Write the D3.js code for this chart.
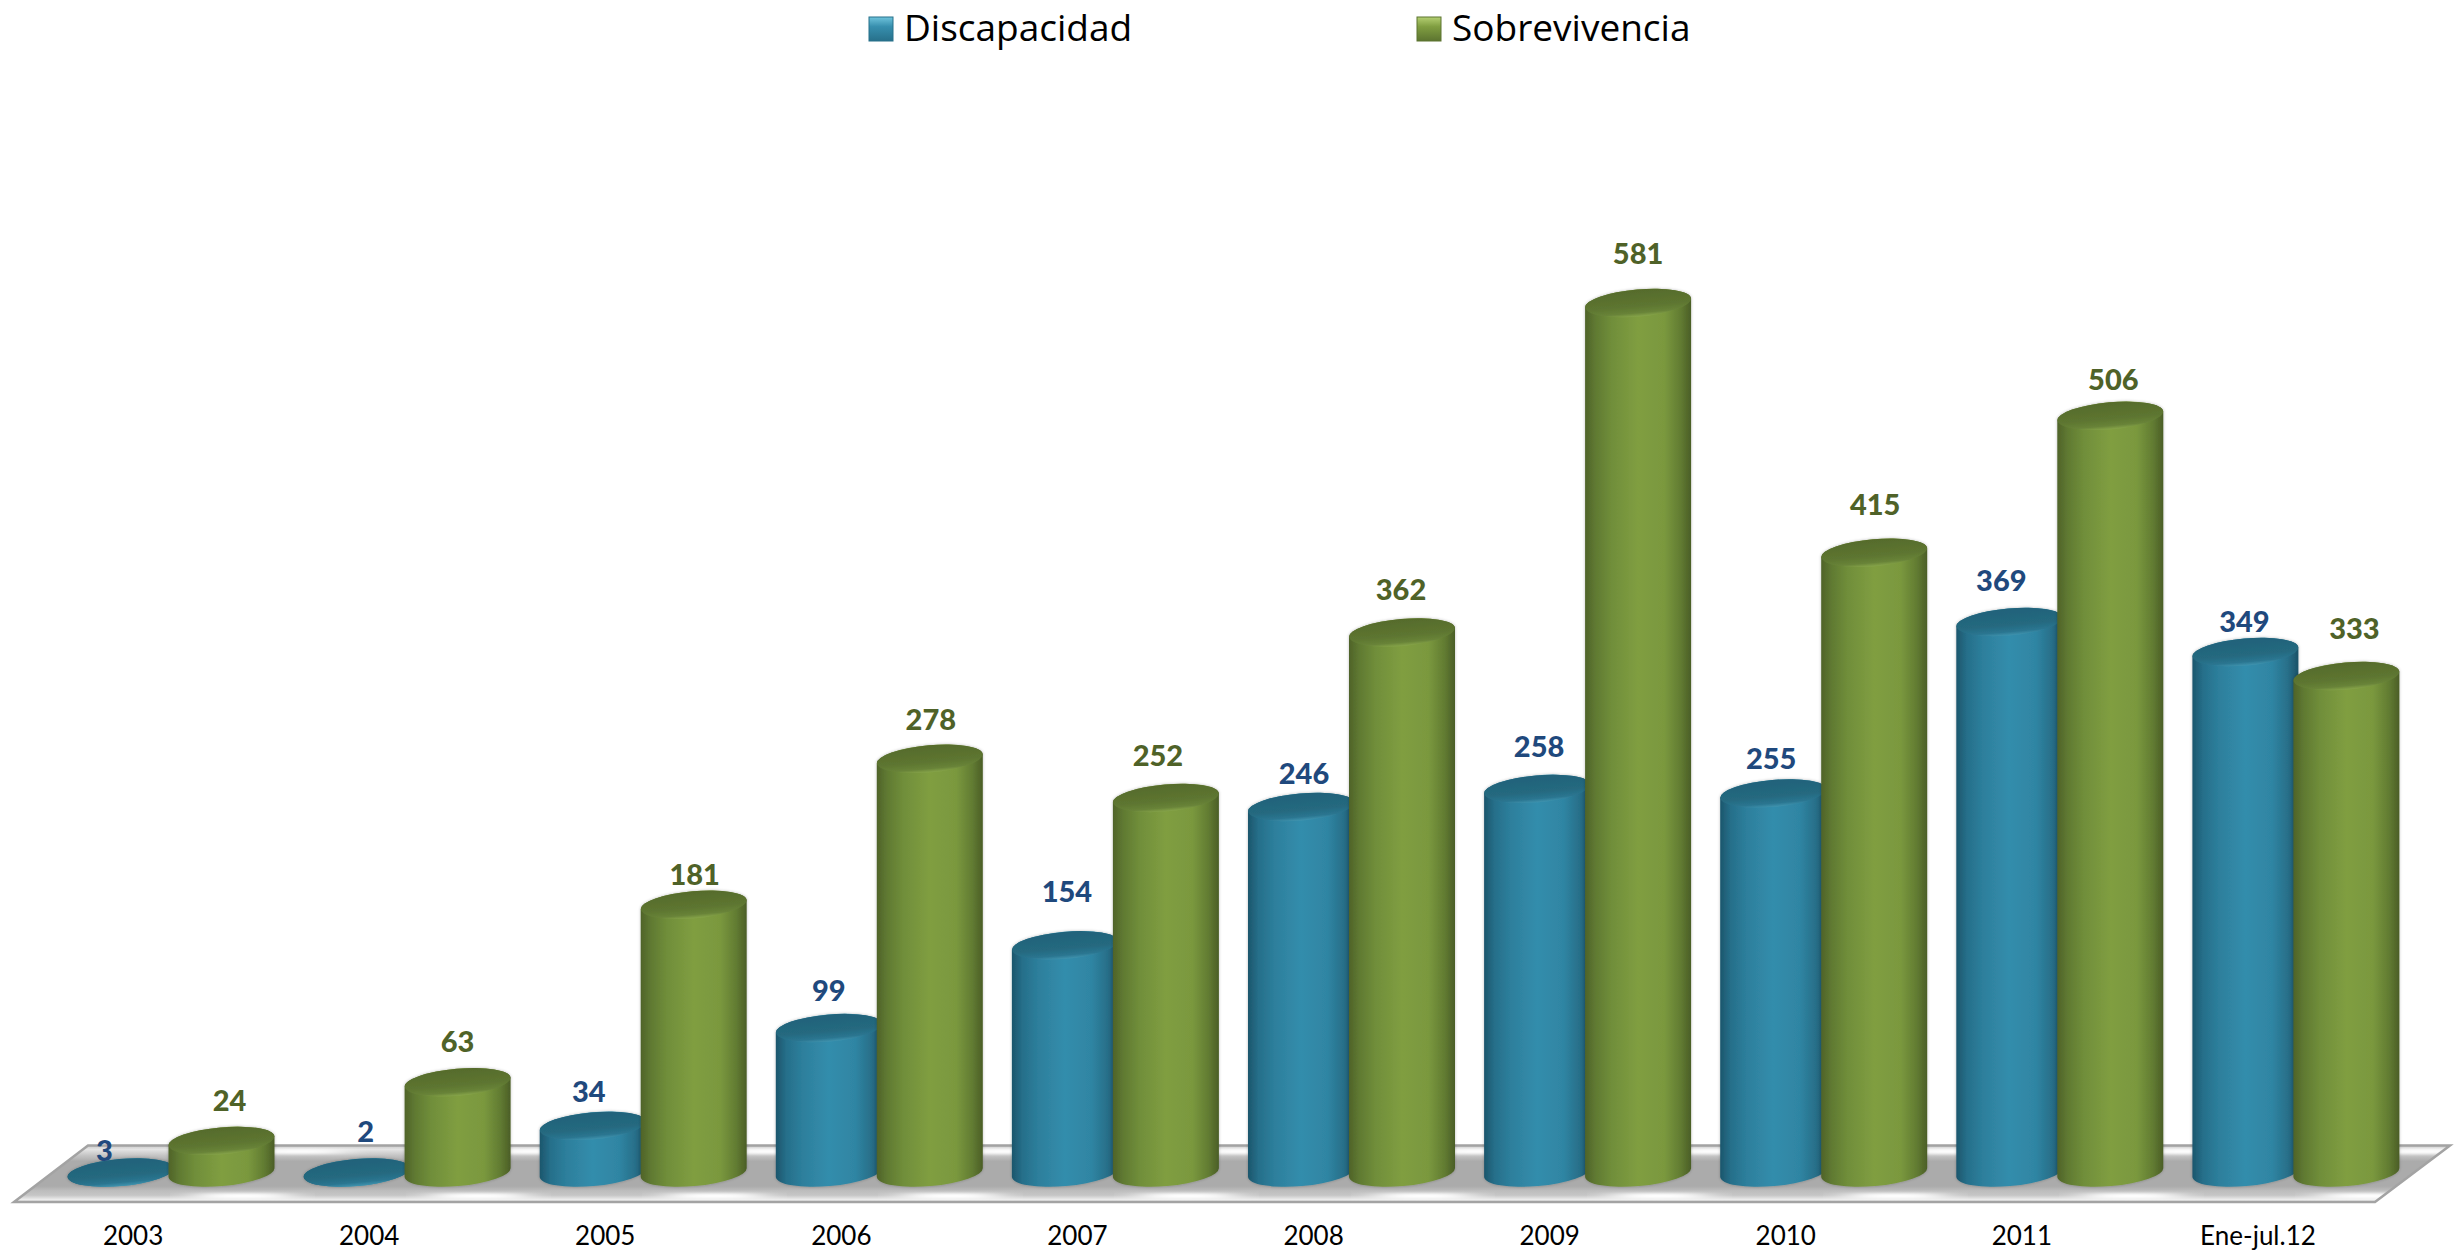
<!DOCTYPE html>
<html><head><meta charset="utf-8">
<script src="https://cdn.jsdelivr.net/npm/d3@7"></script>
<style>html,body{margin:0;padding:0;background:#fff;overflow:hidden}svg{display:block}</style>
</head><body><svg id="c" width="2456" height="1258"></svg>
<script>
const categories = ["2003","2004","2005","2006","2007","2008","2009","2010","2011","Ene-jul.12"];
const discapacidad = [3,2,34,99,154,246,258,255,369,349];
const sobrevivencia = [24,63,181,278,252,362,581,415,506,333];
const seriesNames = ["Discapacidad","Sobrevivencia"];
// hand-placed label offsets seen in the reference (layout, not data)
const nudgeDisc = [[-16,-23],[9,-43],[-4,-35],[0,-39],[2,-55],[3,-34],[2,-43],[-2,-36],[-8,-42],[-1,-31]];
const nudgeSobre = [[8,-41],[0,-42],[1,-31],[1,-40],[-8,-43],[-1,-44],[0,-51],[1,-49],[3,-37],[8,-49]];

const svg = d3.select("#c");
const defs = svg.append("defs");
const y = d3.scaleLinear().domain([0,581]).range([1177,303]);
const xGroup = d3.scaleBand().domain(categories).range([67.5,67.5+236.1*10]).padding(0);
const xSeries = d3.scalePoint().domain(seriesNames).range([0,101]);
const xAxisScale = d3.scaleBand().domain(categories).range([15,15+236.1*10]);
const barW = 106, rx = barW/2, ry = 13.5, rot = -5, baseCy = 1172.5;
const tilt = rx*Math.sin(-rot*Math.PI/180);

function lin(id,stops,vertical){
  const g = defs.append("linearGradient").attr("id",id)
    .attr("x1",0).attr("y1",0).attr("x2",vertical?0:1).attr("y2",vertical?1:0);
  stops.forEach(s=>g.append("stop").attr("offset",s[0]).attr("stop-color",s[1]));
}
lin("bodyD",[[0,"#1c566c"],[.1,"#266f8a"],[.25,"#2d7f9c"],[.5,"#338dac"],[.75,"#2f85a3"],[.9,"#286f89"],[1,"#1b5267"]]);
lin("bodyS",[[0,"#4f6329"],[.1,"#607a32"],[.25,"#708e3a"],[.5,"#809e41"],[.75,"#7a983e"],[.9,"#627c32"],[1,"#4b5e27"]]);
lin("topD",[[0,"#21627a"],[.6,"#25697f"],[.86,"#2a7590"],[1,"#3f93ae"]],true);
lin("topS",[[0,"#566b2c"],[.6,"#5d7530"],[.86,"#688338"],[1,"#86a449"]],true);
lin("swD",[[0,"#6fc4dc"],[.4,"#378fae"],[1,"#27708a"]],true);
lin("swS",[[0,"#b4cf72"],[.4,"#809e41"],[1,"#5c7430"]],true);
lin("floor",[[0,"#c9c9c9"],[.07,"#e4e4e4"],[.17,"#c6c6c6"],[.28,"#ababab"],[.72,"#ababab"],[.8,"#bdbdbd"],[.88,"#c6c6c6"],[.96,"#eeeeee"],[1,"#d9d9d9"]],true);
const glow = defs.append("filter").attr("id","sh").attr("x","-10%").attr("y","-10%").attr("width","120%").attr("height","120%");
glow.append("feGaussianBlur").attr("in","SourceAlpha").attr("stdDeviation",1.5).attr("result","b");
glow.append("feFlood").attr("flood-color","#000").attr("flood-opacity",.25);
glow.append("feComposite").attr("in2","b").attr("operator","in").attr("result","s");
const m = glow.append("feMerge");
m.append("feMergeNode").attr("in","s"); m.append("feMergeNode").attr("in","SourceGraphic");
defs.append("filter").attr("id","soft").attr("x","-30%").attr("y","-100%").attr("width","160%").attr("height","300%")
  .append("feGaussianBlur").attr("stdDeviation","18 1.5");
const floorPath = "M14,1202 L88,1145.5 L2450,1145.5 L2375,1202 Z";
defs.append("clipPath").attr("id","floorClip").append("path").attr("d",floorPath);

// floor
svg.append("path").attr("d",floorPath).attr("fill","url(#floor)");
const shine = svg.append("g").attr("clip-path","url(#floorClip)");
shine.selectAll("rect.f").data(categories).join("rect").attr("class","f")
  .attr("x",d=>xGroup(d)+130).attr("y",1193).attr("width",90).attr("height",6)
  .attr("fill","#fff").attr("filter","url(#soft)");
shine.selectAll("rect.b").data(categories).join("rect").attr("class","b")
  .attr("x",d=>xGroup(d)+185).attr("y",1149).attr("width",90).attr("height",5)
  .attr("fill","#fff").attr("filter","url(#soft)");
svg.append("path").attr("d",floorPath).attr("fill","none")
  .attr("stroke","#a3a3a3").attr("stroke-width",2.5).attr("stroke-linejoin","miter");

// cylinders
const rows = [];
categories.forEach((c,i)=>{
  rows.push({c,i,s:seriesNames[0],v:discapacidad[i],k:"D"});
  rows.push({c,i,s:seriesNames[1],v:sobrevivencia[i],k:"S"});
});
function body(d){
  const l = xGroup(d.c)+xSeries(d.s), r = l+barW, t = Math.min(y(d.v),baseCy);
  return `M${l},${t+tilt} A${rx},${ry} ${rot} 0 1 ${r},${t-tilt}`+
         `L${r},${baseCy-tilt} A${rx},${ry} ${rot} 0 1 ${l},${baseCy+tilt}Z`;
}
const bars = svg.append("g").selectAll("g").data(rows).join("g").attr("filter","url(#sh)");
bars.append("path").attr("d",body).attr("fill",d=>`url(#body${d.k})`);
bars.append("ellipse")
  .attr("rx",rx).attr("ry",ry)
  .attr("transform",d=>`translate(${xGroup(d.c)+xSeries(d.s)+rx},${Math.min(y(d.v),baseCy)}) rotate(${rot})`)
  .attr("fill",d=>`url(#top${d.k})`);

// value labels
svg.append("g").selectAll("text").data(rows).join("text")
  .attr("x",d=>xGroup(d.c)+xSeries(d.s)+rx+(d.k==="D"?nudgeDisc:nudgeSobre)[d.i][0])
  .attr("y",d=>y(d.v)+(d.k==="D"?nudgeDisc:nudgeSobre)[d.i][1])
  .attr("text-anchor","middle").attr("dominant-baseline","central")
  .attr("font-family","Lato").attr("font-weight",900).attr("font-size",29)
  .attr("fill",d=>d.k==="D"?"#1f497d":"#4f6228")
  .text(d=>d.v);

// category axis
const ax = svg.append("g").attr("transform","translate(0,1224)")
  .call(d3.axisBottom(xAxisScale).tickSize(0).tickPadding(0));
ax.select(".domain").remove();
ax.selectAll("text").attr("font-family","Lato").attr("font-size",26).attr("fill","#000").attr("dy","0.82em");

// legend
const lg = svg.append("g").selectAll("g").data(seriesNames).join("g")
  .attr("transform",(d,i)=>`translate(${[869,1417][i]},17)`);
lg.append("rect").attr("width",24).attr("height",24)
  .attr("fill",(d,i)=>i?"url(#swS)":"url(#swD)")
  .attr("stroke",(d,i)=>i?"#5c7430":"#27708a").attr("stroke-width",1);
lg.append("text").attr("x",35).attr("y",24)
  .attr("font-family","Open Sans").attr("font-size",37).attr("fill","#000")
  .text(d=>d);
</script></body></html>
